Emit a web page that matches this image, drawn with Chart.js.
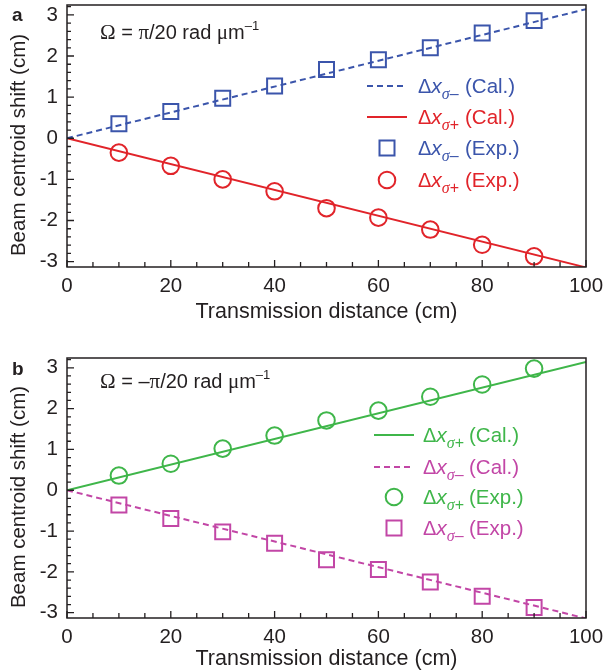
<!DOCTYPE html>
<html>
<head>
<meta charset="utf-8">
<script src="https://cdn.jsdelivr.net/npm/chart.js@4.4.0/dist/chart.umd.min.js"></script>
<style>
  body { margin: 0; background: #fff; }
  #wrapA { position: absolute; left: 0; top: 0; }
  #wrapB { position: absolute; left: 0; top: 335px; }
</style>
</head>
<body>
<div id="wrapA"><canvas id="chartA" width="605" height="330"></canvas></div>
<div id="wrapB"><canvas id="chartB" width="605" height="337"></canvas></div>
<script>
// Data
const distance = [10, 20, 30, 40, 50, 60, 70, 80, 90];
const calDistance = [0, 100];
const xTickLabels = [0, 20, 40, 60, 80, 100];
const yTickLabels = [-3, -2, -1, 0, 1, 2, 3];

// panel a (Omega = pi/20)
const calMinusA = [0, 3.14];
const calPlusA = [0, -3.14];
const expMinusA = [0.35, 0.65, 0.97, 1.27, 1.67, 1.91, 2.20, 2.56, 2.86];
const expPlusA = [-0.35, -0.67, -1.00, -1.29, -1.70, -1.93, -2.22, -2.59, -2.87];

// panel b (Omega = -pi/20)
const calPlusB = [0, 3.14];
const calMinusB = [0, -3.14];
const expPlusB = [0.36, 0.65, 1.02, 1.34, 1.71, 1.95, 2.29, 2.59, 2.98];
const expMinusB = [-0.36, -0.69, -1.02, -1.30, -1.70, -1.94, -2.25, -2.60, -2.87];

const BLUE = '#3b55ab';
const RED = '#e1242a';
const GREEN = '#3fb64a';
const MAGENTA = '#c246a6';
const INK = '#231f20';
const SANS = '"Liberation Sans", Arial, sans-serif';
const SERIF = '"Liberation Serif", "Times New Roman", serif';

function pts(xs, ys) {
  return xs.map((x, i) => ({ x: x, y: ys[i] }));
}

function calSet(xs, ys, color, dashed) {
  return {
    data: pts(xs, ys),
    showLine: true,
    borderColor: color,
    borderWidth: 2,
    borderDash: dashed ? [6, 4] : [],
    pointRadius: 0,
    order: 2
  };
}

function expSet(ys, color, style) {
  return {
    data: pts(distance, ys),
    showLine: false,
    borderColor: color,
    backgroundColor: 'rgba(0,0,0,0)',
    borderWidth: 2,
    pointStyle: style,
    pointRadius: style === 'rect' ? 10.6 : 8.3,
    order: 1
  };
}

/**
 * Draw a run of text segments with their own fonts
 */
function drawRuns(ctx, x, y, runs, color) {
  ctx.fillStyle = color;
  ctx.textAlign = 'left';
  ctx.textBaseline = 'alphabetic';
  runs.forEach(r => {
    ctx.font = r.font;
    ctx.fillText(r.t, x, y + (r.dy || 0));
    x += ctx.measureText(r.t).width;
  });
  return x;
}

/**
 * Frame, inward ticks, y title, annotation and legend
 */
const decorPlugin = {
  id: 'decor',
  afterDraw(chart, args, opts) {
    const ctx = chart.ctx;
    const area = chart.chartArea;
    const xs = chart.scales.x;
    const ys = chart.scales.y;
    ctx.save();

    // frame
    ctx.strokeStyle = INK;
    ctx.lineWidth = 1.5;
    ctx.setLineDash([]);
    ctx.strokeRect(area.left, area.top, area.right - area.left, area.bottom - area.top);

    // inward ticks
    ctx.lineWidth = 1.3;
    ctx.beginPath();
    for (let v = 0; v <= 100; v += 5) {
      const px = xs.getPixelForValue(v);
      const len = v % 20 === 0 ? 7 : 5;
      ctx.moveTo(px, area.bottom);
      ctx.lineTo(px, area.bottom - len);
    }
    for (let i = -15; i <= 16; i++) {
      const v = i / 5;
      if (v < ys.min || v > ys.max) continue;
      const py = ys.getPixelForValue(v);
      const len = i % 5 === 0 ? 7 : 4;
      ctx.moveTo(area.left, py);
      ctx.lineTo(area.left + len, py);
    }
    ctx.stroke();

    // y title, sitting a little below the plot centre
    ctx.save();
    ctx.translate(19, (area.top + area.bottom) / 2 + 9);
    ctx.rotate(-Math.PI / 2);
    ctx.fillStyle = INK;
    ctx.font = '20.5px ' + SANS;
    ctx.textAlign = 'center';
    ctx.textBaseline = 'middle';
    ctx.fillText('Beam centroid shift (cm)', 0, 0);
    ctx.restore();

    // panel letter
    ctx.fillStyle = INK;
    ctx.font = 'bold 19px ' + SANS;
    ctx.textAlign = 'left';
    ctx.textBaseline = 'alphabetic';
    ctx.fillText(opts.letter, 12, opts.letterY);

    // Omega annotation
    drawRuns(ctx, 100, opts.omegaY, opts.omega, INK);

    // legend
    opts.legend.forEach((row, i) => {
      const y = opts.legendY[i];
      const x0 = opts.legendX;
      const cx = x0 + 20;
      ctx.strokeStyle = row.color;
      ctx.lineWidth = 2;
      if (row.kind === 'line') {
        ctx.setLineDash(row.dashed ? [6, 4] : []);
        ctx.beginPath();
        ctx.moveTo(x0, y);
        ctx.lineTo(x0 + 40, y);
        ctx.stroke();
        ctx.setLineDash([]);
      } else if (row.kind === 'rect') {
        ctx.strokeRect(cx - 7.5, y - 7.5, 15, 15);
      } else {
        ctx.beginPath();
        ctx.arc(cx, y, 8.3, 0, Math.PI * 2);
        ctx.stroke();
      }
      const base = y + 7;
      drawRuns(ctx, opts.textX, base, [
        { t: 'Δ', font: '20px ' + SANS },
        { t: 'x', font: 'italic 21px ' + SANS },
        { t: 'σ', font: 'italic 16px ' + SERIF, dy: 6 },
        { t: row.sign, font: '16px ' + SANS, dy: 6 }
      ], row.color);
      drawRuns(ctx, opts.parenX, base, [{ t: row.label, font: '20.5px ' + SANS }], row.color);
    });

    ctx.restore();
  }
};

function omegaRuns(neg) {
  const runs = [
    { t: 'Ω', font: '21px ' + SERIF },
    { t: ' = ', font: '20px ' + SANS }
  ];
  if (neg) runs.push({ t: '–', font: '20px ' + SANS });
  runs.push(
    { t: 'π', font: '21px ' + SERIF },
    { t: '/20 rad ', font: '20px ' + SANS },
    { t: 'μ', font: '21px ' + SERIF },
    { t: 'm', font: '20px ' + SANS },
    { t: '–1', font: '13px ' + SANS, dy: -9 }
  );
  return runs;
}

function buildOptions(cfg) {
  return {
    responsive: false,
    animation: false,
    devicePixelRatio: 1,
    layout: {
      autoPadding: false,
      padding: { top: cfg.padTop, right: 19, left: 0, bottom: 0 }
    },
    plugins: {
      legend: { display: false },
      tooltip: { enabled: false },
      decor: cfg.decor
    },
    scales: {
      x: {
        type: 'linear',
        min: 0,
        max: 100,
        grid: { display: false, drawTicks: false },
        border: { display: false },
        afterBuildTicks: s => { s.ticks = xTickLabels.map(v => ({ value: v })); },
        afterFit: s => {
          s.height = cfg.xHeight;
          s.paddingLeft = 0;
          s.paddingRight = 0;
        },
        ticks: {
          padding: 7,
          color: INK,
          maxRotation: 0,
          font: { family: SANS, size: 20.5 }
        },
        title: {
          display: true,
          text: 'Transmission distance (cm)',
          color: INK,
          font: { family: SANS, size: 21.5 },
          padding: { top: 0, bottom: cfg.xTitlePad }
        }
      },
      y: {
        type: 'linear',
        min: -3.13,
        max: 3.24,
        grid: { display: false, drawTicks: false },
        border: { display: false },
        afterBuildTicks: s => { s.ticks = yTickLabels.map(v => ({ value: v })); },
        afterFit: s => {
          s.width = 67;
          s.paddingTop = 0;
          s.paddingBottom = 0;
        },
        ticks: {
          padding: 9,
          color: INK,
          font: { family: SANS, size: 20.5 }
        },
        title: { display: false }
      }
    }
  };
}

const chartA = new Chart(document.getElementById('chartA'), {
  type: 'scatter',
  data: {
    datasets: [
      calSet(calDistance, calMinusA, BLUE, true),
      calSet(calDistance, calPlusA, RED, false),
      expSet(expMinusA, BLUE, 'rect'),
      expSet(expPlusA, RED, 'circle')
    ]
  },
  options: buildOptions({
    padTop: 5,
    xHeight: 63,
    xTitlePad: 5,
    decor: {
      letter: 'a',
      letterY: 21,
      omegaY: 39,
      omega: omegaRuns(false),
      legendX: 367,
      textX: 418,
      parenX: 465,
      legendY: [86, 117, 148, 180],
      legend: [
        { kind: 'line', dashed: true, color: BLUE, sign: '–', label: '(Cal.)' },
        { kind: 'line', dashed: false, color: RED, sign: '+', label: '(Cal.)' },
        { kind: 'rect', color: BLUE, sign: '–', label: '(Exp.)' },
        { kind: 'circle', color: RED, sign: '+', label: '(Exp.)' }
      ]
    }
  }),
  plugins: [decorPlugin]
});

const chartB = new Chart(document.getElementById('chartB'), {
  type: 'scatter',
  data: {
    datasets: [
      calSet(calDistance, calPlusB, GREEN, false),
      calSet(calDistance, calMinusB, MAGENTA, true),
      expSet(expPlusB, GREEN, 'circle'),
      expSet(expMinusB, MAGENTA, 'rect')
    ]
  },
  options: buildOptions({
    padTop: 23,
    xHeight: 54,
    xTitlePad: 0,
    decor: {
      letter: 'b',
      letterY: 40,
      omegaY: 53,
      omega: omegaRuns(true),
      legendX: 374,
      textX: 423,
      parenX: 469,
      legendY: [100, 132, 162, 193],
      legend: [
        { kind: 'line', dashed: false, color: GREEN, sign: '+', label: '(Cal.)' },
        { kind: 'line', dashed: true, color: MAGENTA, sign: '–', label: '(Cal.)' },
        { kind: 'circle', color: GREEN, sign: '+', label: '(Exp.)' },
        { kind: 'rect', color: MAGENTA, sign: '–', label: '(Exp.)' }
      ]
    }
  }),
  plugins: [decorPlugin]
});
</script>
</body>
</html>
